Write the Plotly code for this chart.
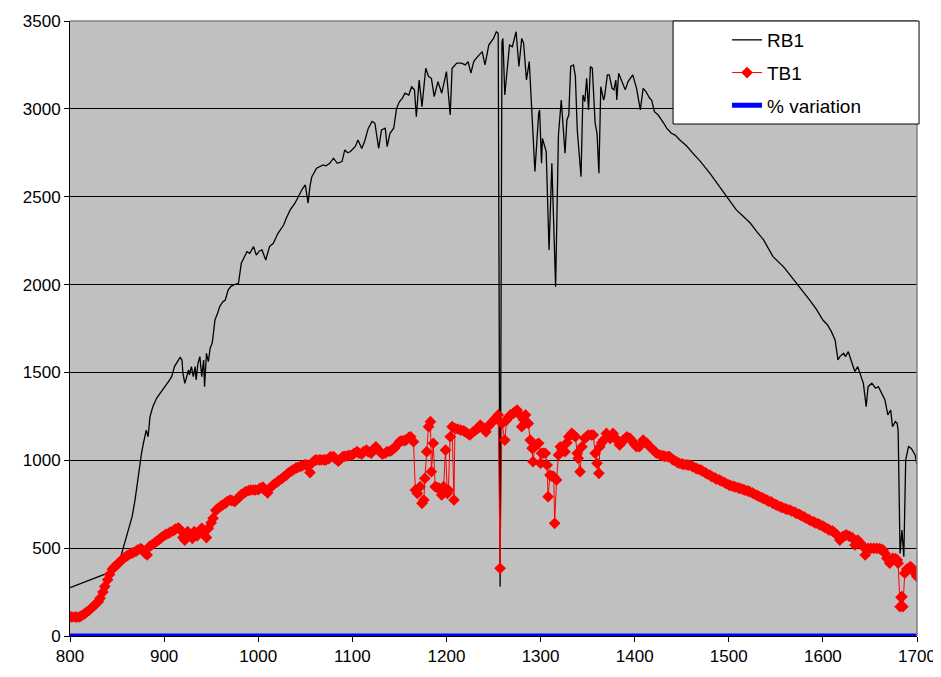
import plotly.graph_objects as go

# RB1 (black line, no markers)
rb1_wl = [800, 810, 820, 830, 840, 845, 850, 853, 856, 860,
          863, 866, 869, 871, 874, 876, 878, 881, 883, 885,
          888, 892, 897, 901, 905, 908, 911, 914, 917, 919,
          920, 922, 924, 926, 927, 929, 931, 933, 934, 936,
          938, 940, 942, 943, 945, 947, 949, 951, 952, 954,
          957, 959, 962, 965, 968, 971, 974, 979, 982, 985,
          988, 991, 995, 998, 1001, 1004, 1008, 1012, 1016, 1021,
          1027, 1030, 1034, 1039, 1044, 1047, 1050, 1053, 1055, 1057,
          1062, 1066, 1069, 1072, 1076, 1080, 1084, 1089, 1092, 1095,
          1098, 1103, 1106, 1110, 1113, 1117, 1121, 1124, 1128, 1131,
          1135, 1137, 1140, 1144, 1147, 1150, 1153, 1156, 1160, 1163,
          1166, 1168, 1171, 1174, 1178, 1181, 1184, 1187, 1191, 1195,
          1200, 1204, 1206, 1211, 1216, 1220, 1223, 1226, 1229, 1232,
          1236, 1238, 1241, 1245, 1250, 1253, 1255, 1257, 1259, 1260,
          1262, 1267, 1270, 1274, 1277, 1280, 1282, 1285, 1288, 1291,
          1294, 1298, 1299, 1301, 1302, 1306, 1309, 1312, 1316, 1319,
          1322, 1326, 1328, 1330, 1332, 1335, 1337, 1339, 1343, 1345,
          1347, 1349, 1351, 1353, 1355, 1358, 1360, 1362, 1364, 1367,
          1368, 1371, 1373, 1376, 1378, 1380, 1381, 1383, 1386, 1390,
          1393, 1398, 1402, 1406, 1409, 1412, 1416, 1418, 1421, 1425,
          1431, 1434, 1439, 1443, 1448, 1455, 1462, 1470, 1480, 1490,
          1498, 1508, 1515, 1523, 1530, 1537, 1547, 1558, 1565, 1572,
          1578, 1583, 1586, 1593, 1600, 1605, 1609, 1613, 1616, 1618,
          1622, 1624, 1627, 1631, 1634, 1637, 1641, 1643, 1646, 1648,
          1652, 1656, 1659, 1663, 1666, 1669, 1672, 1674, 1677, 1679,
          1680, 1682, 1684, 1686, 1688, 1691, 1694, 1698, 1700]
rb1 = [275, 295, 315, 335, 358, 378, 410, 433, 490, 565,
       620, 679, 770, 850, 983, 1040, 1097, 1172, 1134, 1248,
       1305, 1353, 1391, 1419, 1450, 1476, 1533, 1560, 1585, 1571,
       1495, 1438, 1480, 1514, 1486, 1533, 1476, 1533, 1457, 1552,
       1590, 1476, 1571, 1419, 1609, 1561, 1640, 1666, 1704, 1798,
       1840, 1874, 1900, 1912, 1969, 1990, 1998, 2007, 2121, 2150,
       2187, 2178, 2216, 2168, 2190, 2197, 2140, 2216, 2235, 2292,
       2339, 2380, 2425, 2463, 2520, 2545, 2567, 2463, 2560, 2614,
       2662, 2672, 2681, 2676, 2690, 2719, 2690, 2700, 2766, 2750,
       2757, 2785, 2823, 2775, 2814, 2890, 2928, 2918, 2775, 2880,
       2890, 2785, 2861, 2890, 3003, 3040, 3060, 3089, 3079, 3126,
       3108, 2956, 3164, 3013, 3231, 3184, 3174, 3070, 3155, 3089,
       3212, 2965, 3231, 3260, 3260, 3250, 3269, 3203, 3269, 3290,
       3316, 3326, 3250, 3363, 3401, 3439, 3430, 280, 3380, 3401,
       3079, 3363, 3354, 3439, 3241, 3401, 3373, 3164, 3269, 2956,
       2643, 2975, 2994, 2690, 2832, 2757, 2197, 2690, 1988, 2851,
       3050, 2747, 2937, 2965, 3241, 3250, 3184, 2880, 2614, 3079,
       3041, 3174, 2994, 3241, 3231, 2918, 2861, 2633, 3126, 3050,
       3070, 3193, 3193, 3117, 3108, 3164, 3050, 3203, 3164, 3108,
       3155, 3193, 3117, 2994, 3117, 3098, 3060, 3050, 2984, 2965,
       2918, 2890, 2861, 2851, 2823, 2790, 2747, 2700, 2633, 2560,
       2500, 2425, 2390, 2349, 2300, 2254, 2159, 2102, 2055, 2007,
       1970, 1931, 1912, 1860, 1798, 1770, 1732, 1685, 1571, 1590,
       1609, 1590, 1618, 1552, 1505, 1533, 1476, 1438, 1305, 1419,
       1438, 1410, 1419, 1372, 1343, 1258, 1286, 1191, 1220, 1210,
       1163, 470, 603, 451, 1002, 1078, 1068, 1030, 975]

# TB1 (red line with diamond markers)
tb1_wl = [800, 802, 805, 807, 810, 812, 815, 817, 820, 822,
          825, 827, 830, 832, 835, 837, 840, 842, 845, 847,
          850, 852, 855, 857, 860, 862, 865, 867, 870, 872,
          875, 877, 880, 882, 885, 887, 890, 892, 895, 897,
          900, 902, 905, 907, 910, 912, 915, 917, 920, 922,
          925, 927, 930, 932, 935, 937, 940, 942, 945, 947,
          950, 952, 955, 957, 960, 962, 965, 967, 970, 972,
          975, 977, 980, 982, 985, 987, 990, 992, 995, 997,
          1000, 1002, 1005, 1007, 1010, 1012, 1015, 1017, 1020, 1022,
          1025, 1027, 1030, 1032, 1035, 1037, 1040, 1042, 1045, 1047,
          1050, 1052, 1055, 1057, 1060, 1062, 1065, 1067, 1070, 1072,
          1075, 1077, 1080, 1082, 1085, 1087, 1090, 1092, 1095, 1097,
          1100, 1102, 1105, 1107, 1110, 1112, 1115, 1117, 1120, 1122,
          1125, 1127, 1130, 1132, 1135, 1137, 1140, 1142, 1145, 1147,
          1150, 1152, 1155, 1157, 1160,
          1162, 1165, 1167, 1169, 1172, 1174, 1176,
          1177, 1179, 1181, 1183, 1184, 1186, 1188, 1190, 1192, 1195,
          1197, 1199, 1201, 1202, 1204, 1206, 1208, 1209, 1212, 1215,
          1218, 1220, 1223, 1225, 1228, 1231, 1234, 1236, 1239, 1242,
          1245, 1247, 1250, 1252, 1255, 1257, 1259, 1262, 1264, 1266,
          1268, 1271, 1273, 1275, 1278, 1280, 1282, 1284, 1287, 1289,
          1291, 1292, 1294, 1296, 1298, 1300, 1301, 1303, 1305, 1307,
          1308, 1310, 1312, 1314, 1315, 1317, 1319, 1321, 1323, 1326,
          1328, 1330, 1333, 1335, 1337, 1339, 1340, 1342, 1344, 1347,
          1349, 1351, 1354, 1356, 1358, 1360, 1362, 1363, 1365, 1367,
          1370, 1372, 1374, 1377, 1379, 1381, 1384, 1386, 1388, 1390,
          1392, 1395, 1398, 1400, 1402, 1405, 1409, 1413, 1416, 1420,
          1423, 1427,
          1430, 1432, 1435, 1437, 1440, 1442, 1445, 1447, 1450, 1452,
          1455, 1457, 1460, 1462, 1465, 1467, 1470, 1472, 1475, 1477,
          1480, 1482, 1485, 1487, 1490, 1492, 1495, 1497, 1500, 1502,
          1505, 1507, 1510, 1512, 1515, 1517, 1520, 1522, 1525, 1527,
          1530, 1532, 1535, 1537, 1540, 1542, 1545, 1547, 1550, 1552,
          1555, 1557, 1560, 1562, 1565, 1567, 1570, 1572, 1575, 1577,
          1580, 1582, 1585, 1587, 1590, 1592, 1595, 1597, 1600, 1602,
          1605, 1607, 1610, 1612, 1615,
          1618, 1620, 1621, 1623, 1625, 1628, 1631, 1634, 1637, 1640,
          1643, 1645, 1648, 1651, 1654, 1657, 1660, 1662, 1664, 1666,
          1668, 1671, 1674, 1677, 1679, 1680, 1682, 1683, 1684, 1685,
          1687, 1689, 1691, 1693, 1695, 1697, 1699, 1700]
tb1 = [110, 108, 108, 107, 108, 115, 125, 133, 145, 155,
       170, 180, 195, 215, 250, 281, 320, 350, 380, 393,
       405, 418, 433, 443, 455, 461, 470, 475, 482, 490,
       497, 490, 470, 461, 512, 518, 530, 538, 550, 560,
       572, 578, 585, 592, 600, 608, 616, 605, 560, 546,
       594, 575, 556, 594, 570, 585, 613, 590, 560, 613,
       645, 670, 715, 725, 738, 745, 755, 765, 774, 770,
       765, 778, 790, 805, 815, 822, 828, 831, 831, 831,
       833, 841, 848, 830, 815, 840, 855, 865, 875, 885,
       895, 905, 916, 928, 938, 945, 955, 960, 965, 970,
       975, 973, 930, 983, 1000, 1002, 1002, 1002, 1002, 1002,
       1010, 1021, 1021, 1010, 995, 1005, 1021, 1022, 1025, 1028,
       1030, 1040, 1049, 1040, 1035, 1050, 1058, 1048, 1040, 1060,
       1077, 1062, 1045, 1035, 1040, 1049, 1052, 1058, 1070, 1085,
       1105, 1110, 1112, 1115, 1130,
       1134, 1106, 831, 812, 850, 755, 774,
       897, 1049, 1191, 1220, 935, 1097, 850, 845, 841, 803,
       850, 1058, 812, 831, 1134, 1191, 774, 1181, 1178, 1172,
       1168, 1162, 1150, 1144, 1160, 1172, 1185, 1200, 1185, 1162,
       1195, 1210, 1225, 1238, 1258, 385, 1210, 1115, 1229, 1245,
       1258, 1267, 1276, 1286, 1258, 1191, 1230, 1258, 1210, 1115,
       1068, 992, 1078, 1090, 1097, 983, 1040, 1040, 1040, 973,
       793, 916, 910, 907, 641, 888, 1030, 1077, 1058, 1049,
       1100, 1134, 1153, 1145, 1134, 1040, 1011, 935, 1077, 1125,
       1135, 1144, 1144, 1144, 1040, 983, 926, 1077, 1100, 1115,
       1153, 1135, 1125, 1153, 1130, 1115, 1087, 1100, 1115, 1125,
       1134, 1125, 1106, 1090, 1077, 1077, 1115, 1097, 1077, 1058,
       1040, 1030,
       1025, 1022, 1021, 1021, 1005, 1000, 990, 983, 980, 976,
       975, 973, 970, 962, 955, 950, 945, 938, 930, 922,
       916, 907, 900, 893, 888, 882, 875, 868, 860, 856,
       852, 848, 843, 840, 835, 830, 826, 822, 815, 808,
       800, 795, 788, 782, 775, 768, 763, 755, 748, 742,
       735, 730, 725, 720, 717, 710, 705, 698, 692, 685,
       678, 670, 663, 656, 650, 644, 638, 632, 625, 618,
       610, 603, 598, 590, 575,
       546, 560, 565, 570, 575, 568, 560, 518, 546, 528,
       508, 461, 499, 499, 499, 499, 497, 493, 489, 470,
       442, 414, 442, 440, 433, 414, 167, 220, 224, 167,
       357, 380, 385, 395, 385, 367, 350, 338]

# % variation (blue, sits on the x axis)
pct_wl = [800, 1000, 1255, 1257, 1259, 1500, 1700]
pct = [0.4, 0.38, 0.37, 1.4, 0.36, 0.35, 0.35]

fig = go.Figure()

fig.add_trace(go.Scatter(x=rb1_wl, y=rb1, mode="lines", name="RB1", legendgroup="a",
                         line=dict(color="black", width=1.3)))
fig.add_trace(go.Scatter(x=tb1_wl, y=tb1, mode="lines+markers", name="TB1", legendgroup="b",
                         line=dict(color="#FF0000", width=1),
                         marker=dict(symbol="diamond", size=9, color="#FF0000",
                                     line=dict(width=0))))
fig.add_trace(go.Scatter(x=pct_wl, y=pct, mode="lines", name="% variation", legendgroup="c",
                         line=dict(color="#0000FF", width=5)))

# page body has an 8px margin, so the figure is a bit smaller than the window
fig.update_layout(
    width=933, height=669,
    margin=dict(l=62, r=24, t=13, b=41),
    paper_bgcolor="white",
    plot_bgcolor="#C0C0C0",
    font=dict(family="Liberation Sans, Arial, sans-serif", size=17, color="black"),
    showlegend=True,
    legend=dict(x=0.7757, y=1.0, xanchor="left", yanchor="top",
                bgcolor="rgba(0,0,0,0)", borderwidth=0,
                font=dict(size=19), traceorder="grouped", tracegroupgap=5),
    shapes=[
        # plot area border (top / right in gray)
        dict(type="line", xref="paper", yref="paper", x0=0, x1=1, y0=1, y1=1,
             line=dict(color="#808080", width=1.5), layer="above"),
        dict(type="line", xref="paper", yref="paper", x0=1, x1=1, y0=0, y1=1,
             line=dict(color="#808080", width=1.5), layer="above"),
        # legend box
        dict(type="rect", xref="paper", yref="paper", x0=0.712, x1=1.0024, y0=0.8325, y1=1.0,
             fillcolor="white", line=dict(color="black", width=1), layer="above"),
    ],
)

fig.update_xaxes(range=[800, 1700], tick0=800, dtick=100, showgrid=False,
                 showline=True, linecolor="black", linewidth=1, automargin=False,
                 ticks="outside", ticklen=5, tickcolor="black", zeroline=False,
                 layer="below traces")
fig.update_yaxes(range=[0, 3500], tick0=0, dtick=500, showgrid=True,
                 gridcolor="black", gridwidth=1, automargin=False,
                 showline=True, linecolor="black", linewidth=1,
                 ticks="outside", ticklen=5, tickcolor="black", zeroline=False,
                 layer="below traces")

fig.write_html("out.html")
